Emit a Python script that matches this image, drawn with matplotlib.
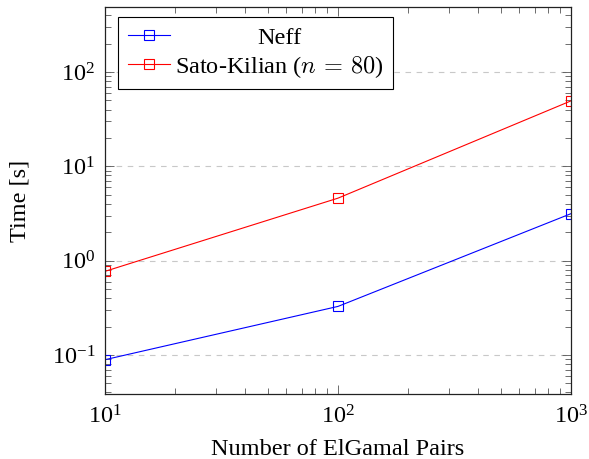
import numpy as np
import matplotlib
matplotlib.use("Agg")
import matplotlib.pyplot as plt

plt.rcParams['font.family'] = ['Liberation Serif', 'DejaVu Serif']
plt.rcParams['mathtext.fontset'] = 'cm'

pairs = [10, 100, 1000]
neff = [0.089, 0.327, 3.15]
sato = [0.77, 4.6, 49.5]
labels = ["Neff", r"Sato-Kilian ($n\,=\,80$)"]

fig = plt.figure(figsize=(5.89, 4.59), dpi=100)
ax = fig.add_axes([105/589, 1-394/459, 466/589, 387/459])

ax.plot(pairs, neff, color=(0, 0, 1), lw=0.8, marker='s', ms=7,
        mfc='none', mew=0.8, label=labels[0])
ax.plot(pairs, sato, color=(1, 0, 0), lw=0.8, marker='s', ms=7,
        mfc='none', mew=0.8, label=labels[1])

ax.set_xscale('log')
ax.set_yscale('log')
ax.set_xlim(10, 1000)
ax.set_ylim(0.0385, 490)

ax.grid(True, which='major', axis='y', ls=(0, (5, 5)), color='#c8c8c8', lw=0.8)
ax.tick_params(which='both', direction='in', top=True, right=True,
               color='#555555', labelsize=17.5)
ax.tick_params(which='major', length=6.5, width=0.6)
ax.tick_params(which='minor', length=4.3, width=0.6)
ax.tick_params(axis='y', which='major', pad=7)
ax.tick_params(axis='x', which='major', pad=8)
for s in ax.spines.values():
    s.set_linewidth(0.9)
    s.set_color('#222222')

ax.set_xlabel("Number of ElGamal Pairs", fontsize=17.5, labelpad=8)
ax.set_ylabel("Time [s]", fontsize=17.5, labelpad=15)

leg = ax.legend(loc='upper left', bbox_to_anchor=(13/466, 1-10/387),
                borderaxespad=0, fancybox=False, framealpha=1,
                edgecolor='black', fontsize=17.5, handlelength=1.75,
                handletextpad=0.2, borderpad=0.4, labelspacing=0.2)
leg.get_frame().set_linewidth(0.8)

# center legend text like pgfplots
fig.canvas.draw()
r = fig.canvas.get_renderer()
texts = leg.get_texts()
widths = [t.get_window_extent(r).width for t in texts]
for t, w in zip(texts, widths):
    t.set_position(((max(widths) - w) / 2, 0))

fig.savefig("out.png", dpi=100)
